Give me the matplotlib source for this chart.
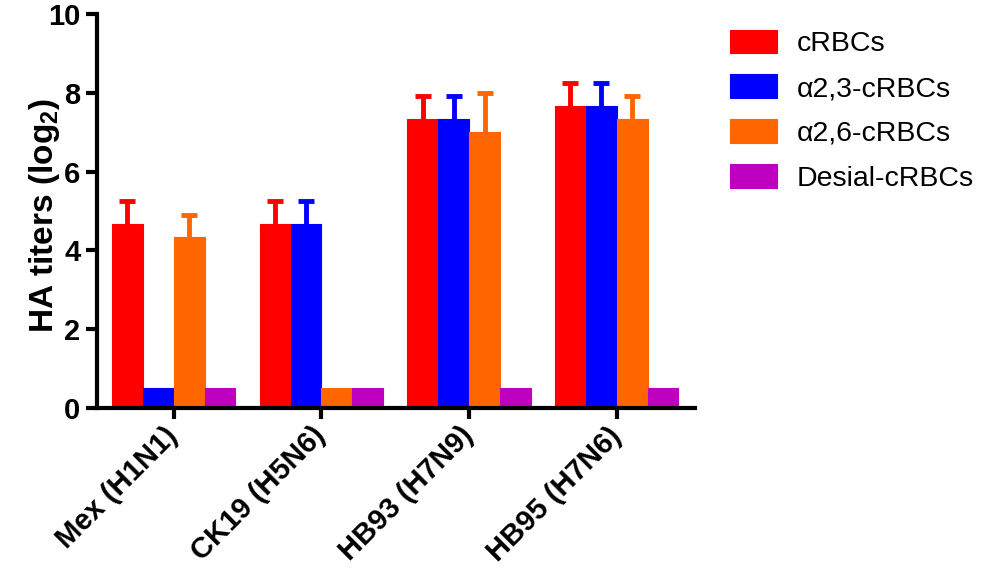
import numpy as np
import matplotlib
matplotlib.use('Agg')
import matplotlib.pyplot as plt

plt.rcParams['font.family'] = ['Liberation Sans', 'DejaVu Sans']
plt.rcParams['mathtext.fontset'] = 'custom'
plt.rcParams['mathtext.rm'] = 'Liberation Sans'
plt.rcParams['mathtext.bf'] = 'Liberation Sans:bold'

strains = ['Mex (H1N1)', 'CK19 (H5N6)', 'HB93 (H7N9)', 'HB95 (H7N6)']
series = ['cRBCs', 'α2,3-cRBCs', 'α2,6-cRBCs', 'Desial-cRBCs']
cores = ['#FF0000', '#0000FF', '#FF6600', '#C000C0']

crbc = [4.67, 4.67, 7.33, 7.67]
crbc_err = [0.58, 0.58, 0.58, 0.58]
a23 = [0.5, 4.67, 7.33, 7.67]
a23_err = [0, 0.58, 0.58, 0.58]
a26 = [4.33, 0.5, 7.0, 7.33]
a26_err = [0.58, 0, 1.0, 0.58]
desial = [0.5, 0.5, 0.5, 0.5]
desial_err = [0, 0, 0, 0]

valores = [crbc, a23, a26, desial]
erros = [crbc_err, a23_err, a26_err, desial_err]

fig = plt.figure(figsize=(10, 5.71), dpi=100)
ax = fig.add_axes([0.097, 0.2855, 0.598, 0.69])

x = np.arange(len(strains))
w = 0.209
for k in range(4):
    pos = x + (k - 1.5) * w
    v = np.array(valores[k])
    e = np.array(erros[k])
    ax.bar(pos, v, w, color=cores[k], edgecolor=cores[k], linewidth=0.8,
           label=series[k], zorder=2)
    m = e > 0
    if m.sum() == 0:
        continue
    eb = ax.errorbar(pos[m], v[m], yerr=[np.zeros(m.sum()), e[m]], fmt='none',
                     ecolor=cores[k], elinewidth=3.5, capsize=5.5, capthick=3.5,
                     zorder=1)
    eb[1][0].set_visible(False)  # sem cap embaixo

ax.set_xlim(-0.52, 3.53)
ax.set_ylim(0, 10)
ax.set_yticks([0, 2, 4, 6, 8, 10])
ax.set_xticks(x)
ax.set_xticklabels(strains, rotation=45, ha='right', va='center',
                   rotation_mode='anchor', fontsize=21, fontweight='bold')
for t in ax.get_yticklabels():
    t.set_fontsize(21)
    t.set_fontweight('bold')
ax.set_ylabel('HA titers (log$_\\mathbf{2}$)', fontsize=24, fontweight='bold')
ax.yaxis.set_label_coords(-0.058, 0.49)

for s in ['top', 'right']:
    ax.spines[s].set_visible(False)
for s in ['left', 'bottom']:
    ax.spines[s].set_linewidth(3)
ax.tick_params(axis='both', width=3, length=8, direction='out', pad=4)
ax.tick_params(axis='x', pad=9)

ax.legend(loc='upper left', bbox_to_anchor=(1.015, 1.025), frameon=False,
          fontsize=20.5, handlelength=1.65, handleheight=0.9, labelspacing=0.6,
          handletextpad=0.7)

fig.savefig('out.png', dpi=100)
